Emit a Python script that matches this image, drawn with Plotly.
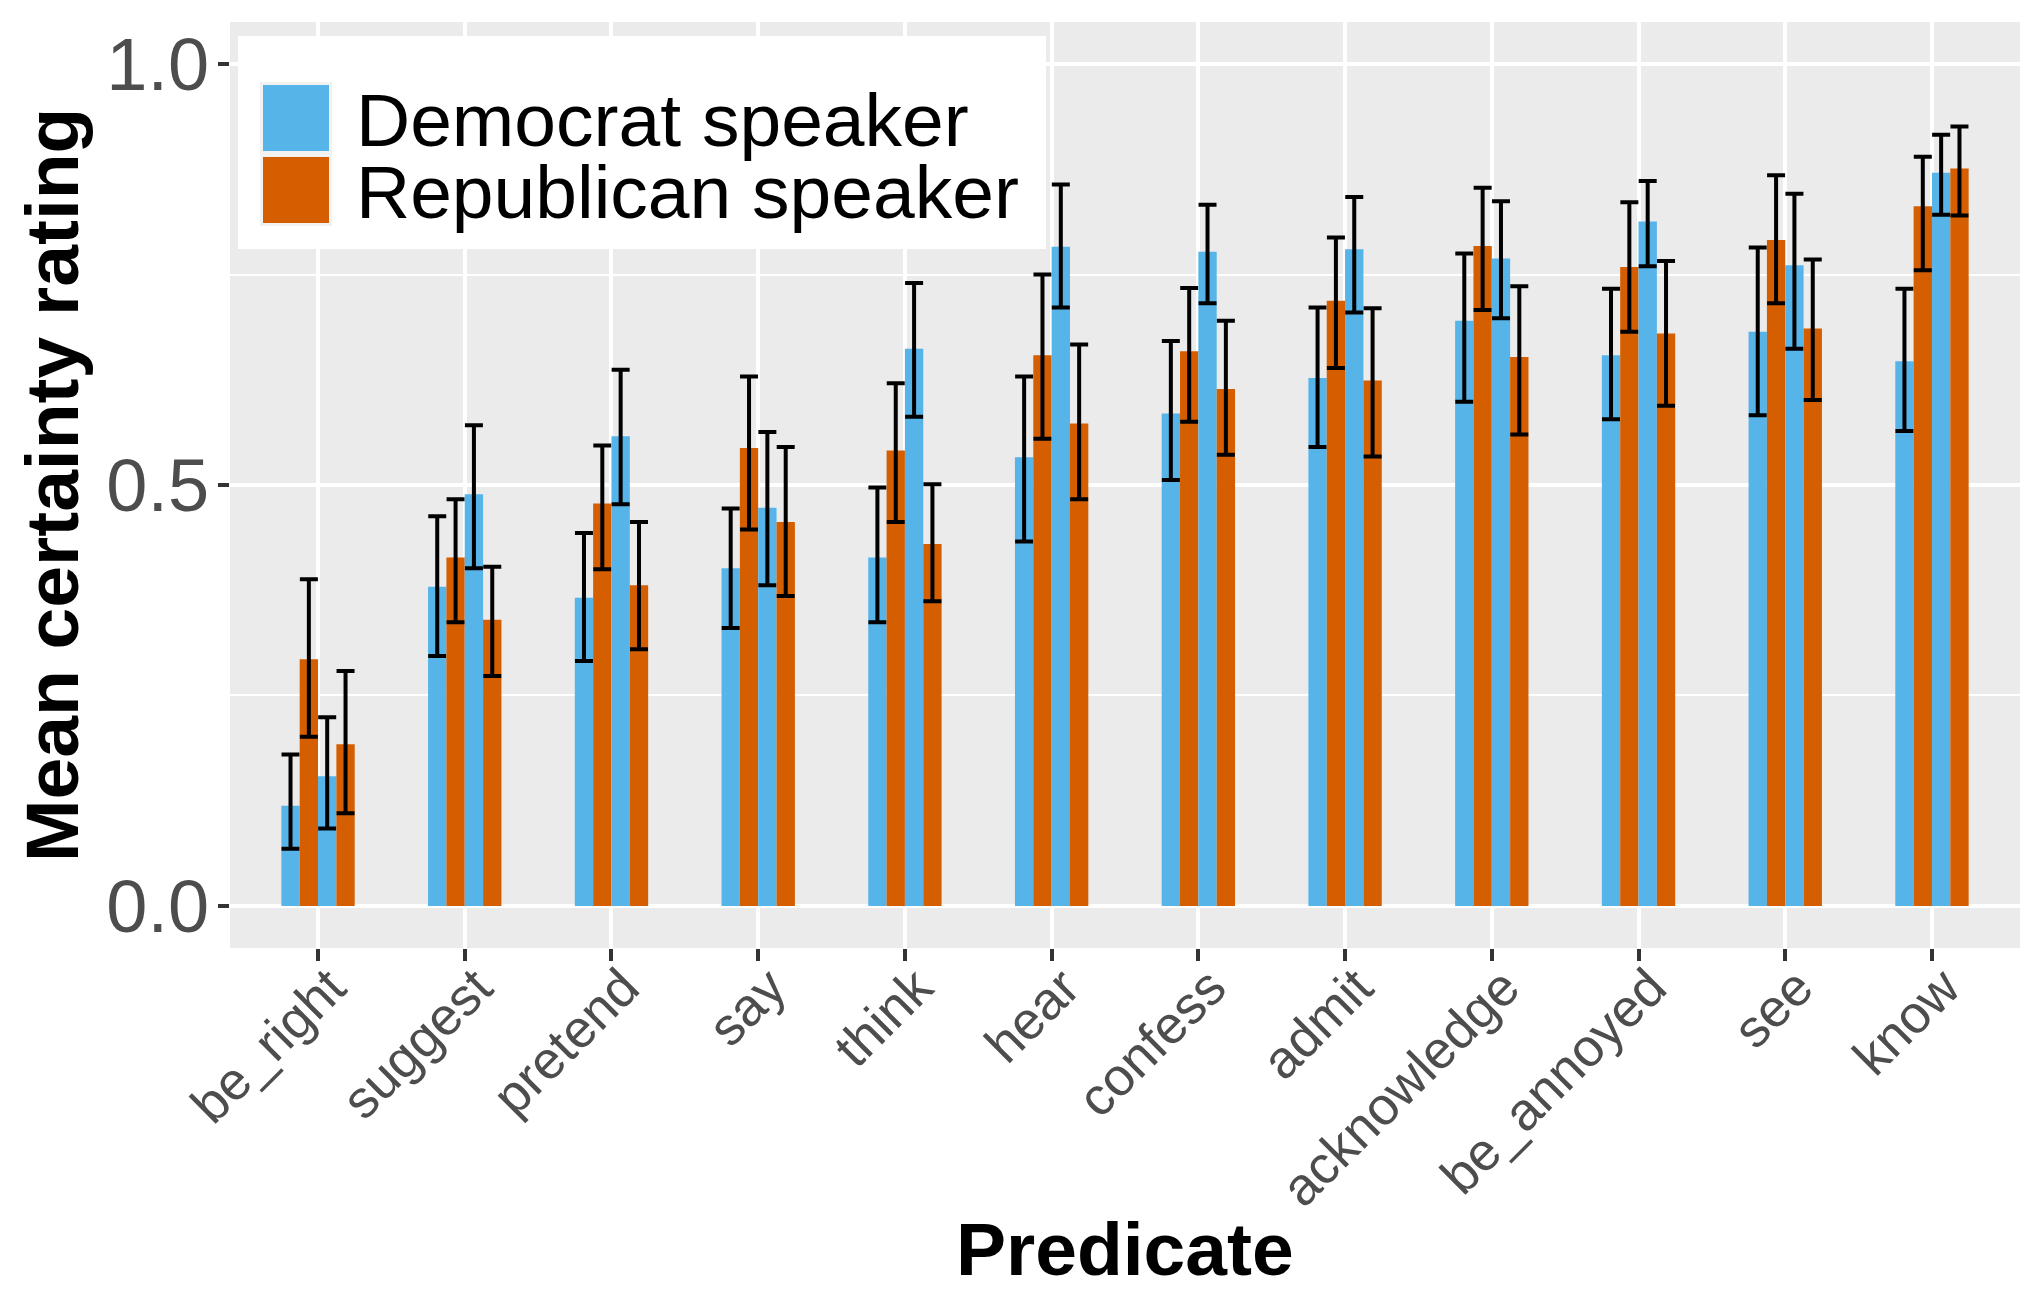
import plotly.graph_objects as go

predicates = ["be_right", "suggest", "pretend", "say", "think", "hear",
              "confess", "admit", "acknowledge", "be_annoyed", "see", "know"]

# Condition A
dem_a = [0.119, 0.379, 0.366, 0.401, 0.414, 0.533, 0.585, 0.627, 0.695, 0.654, 0.682, 0.647]
dem_a_lo = [0.068, 0.297, 0.291, 0.330, 0.337, 0.433, 0.506, 0.545, 0.599, 0.578, 0.583, 0.564]
dem_a_hi = [0.180, 0.463, 0.443, 0.472, 0.497, 0.629, 0.671, 0.711, 0.775, 0.733, 0.782, 0.733]
rep_a = [0.293, 0.414, 0.478, 0.544, 0.541, 0.654, 0.659, 0.719, 0.784, 0.759, 0.791, 0.831]
rep_a_lo = [0.201, 0.337, 0.400, 0.447, 0.456, 0.555, 0.575, 0.639, 0.708, 0.682, 0.716, 0.755]
rep_a_hi = [0.388, 0.483, 0.547, 0.629, 0.621, 0.750, 0.734, 0.794, 0.853, 0.836, 0.868, 0.890]

# Condition B
dem_b = [0.154, 0.489, 0.558, 0.473, 0.662, 0.783, 0.777, 0.780, 0.769, 0.813, 0.761, 0.871]
dem_b_lo = [0.092, 0.401, 0.477, 0.381, 0.581, 0.711, 0.716, 0.705, 0.698, 0.760, 0.662, 0.821]
dem_b_hi = [0.224, 0.571, 0.637, 0.563, 0.740, 0.857, 0.833, 0.842, 0.837, 0.861, 0.846, 0.916]
rep_b = [0.192, 0.340, 0.381, 0.456, 0.430, 0.573, 0.614, 0.624, 0.652, 0.680, 0.686, 0.876]
rep_b_lo = [0.110, 0.273, 0.305, 0.368, 0.362, 0.483, 0.536, 0.534, 0.560, 0.594, 0.601, 0.820]
rep_b_hi = [0.279, 0.403, 0.456, 0.545, 0.501, 0.667, 0.695, 0.710, 0.736, 0.766, 0.768, 0.926]

legend_labels = ["Democrat speaker", "Republican speaker"]
BLUE = "#56B4E9"
ORANGE = "#D55E00"
FONT = "Liberation Sans"

# the page body adds an 8px offset; layout measured in window pixels
OFF = 8
W, H = 2043 - OFF, 1315 - OFF
L, R, T, B = 230 - OFF, 23, 22 - OFF, 367
PW, PH = W - L - R, H - T - B


def px(xw):
    """window x pixel -> paper coordinate"""
    return (xw - OFF - L) / PW


def py(yw):
    """window y pixel -> paper coordinate"""
    return (T + PH - (yw - OFF)) / PH


fig = go.Figure()

series = [
    ("dem_a", dem_a, dem_a_lo, dem_a_hi, BLUE, legend_labels[0]),
    ("rep_a", rep_a, rep_a_lo, rep_a_hi, ORANGE, legend_labels[1]),
    ("dem_b", dem_b, dem_b_lo, dem_b_hi, BLUE, legend_labels[0]),
    ("rep_b", rep_b, rep_b_lo, rep_b_hi, ORANGE, legend_labels[1]),
]

for key, vals, lo, hi, col, name in series:
    fig.add_trace(go.Bar(
        x=predicates, y=vals, name=name, offsetgroup=key,
        marker=dict(color=col, line=dict(width=0)),
        showlegend=False,
        error_y=dict(type="data", symmetric=False,
                     array=[h - v for h, v in zip(hi, vals)],
                     arrayminus=[v - l for v, l in zip(vals, lo)],
                     color="black", thickness=4, width=9),
    ))

shapes = [
    dict(type="rect", xref="paper", yref="paper", x0=px(238), x1=px(1046),
         y0=py(249), y1=py(36), fillcolor="white", line=dict(width=0), layer="above"),
    dict(type="rect", xref="paper", yref="paper", x0=px(260), x1=px(332),
         y0=py(226), y1=py(82), fillcolor="#F2F2F2", line=dict(width=0), layer="above"),
    dict(type="rect", xref="paper", yref="paper", x0=px(263), x1=px(329),
         y0=py(151), y1=py(85), fillcolor=BLUE, line=dict(width=0), layer="above"),
    dict(type="rect", xref="paper", yref="paper", x0=px(263), x1=px(329),
         y0=py(223), y1=py(157), fillcolor=ORANGE, line=dict(width=0), layer="above"),
]

annotations = [
    dict(text=legend_labels[0], xref="paper", yref="paper", x=px(354), y=py(120),
         xanchor="left", yanchor="middle", showarrow=False,
         font=dict(family=FONT, size=75, color="black")),
    dict(text=legend_labels[1], xref="paper", yref="paper", x=px(354), y=py(192),
         xanchor="left", yanchor="middle", showarrow=False,
         font=dict(family=FONT, size=75, color="black")),
    dict(text="Mean certainty rating", xref="paper", yref="paper", x=px(52), y=0.5,
         xanchor="center", yanchor="middle", textangle=-90, showarrow=False,
         font=dict(family=FONT, size=75, color="black", weight="bold")),
    dict(text="Predicate", xref="paper", yref="paper", x=0.5, y=py(1249),
         xanchor="center", yanchor="middle", showarrow=False,
         font=dict(family=FONT, size=75, color="black", weight="bold")),
]

fig.update_layout(
    width=W, height=H,
    margin=dict(l=L, r=R, t=T, b=B, pad=0),
    paper_bgcolor="white", plot_bgcolor="#EBEBEB",
    barmode="group", bargap=0.5, bargroupgap=0,
    shapes=shapes, annotations=annotations,
    font=dict(family=FONT),
    showlegend=False,
)

fig.update_xaxes(
    type="category", categoryorder="array", categoryarray=predicates,
    range=[-0.6, 11.6], showgrid=True, gridcolor="white", gridwidth=4,
    zeroline=False, showline=False,
    ticks="outside", ticklen=12, tickwidth=4, tickcolor="#333333",
    tickangle=-45, tickfont=dict(family=FONT, size=53, color="#4D4D4D"),
    ticklabelstandoff=-26, ticklabelshift=12,
)

fig.update_yaxes(
    range=[-0.05, 1.05], tickvals=[0, 0.5, 1.0], ticktext=["0.0", "0.5", "1.0"],
    showgrid=True, gridcolor="white", gridwidth=4, zeroline=False, showline=False,
    minor=dict(tickvals=[0.25, 0.75], showgrid=True, gridcolor="white", gridwidth=2, ticks=""),
    ticks="outside", ticklen=11, tickwidth=4, tickcolor="#333333",
    tickfont=dict(family=FONT, size=74, color="#4D4D4D"),
    ticklabelstandoff=-6,
)

fig.write_html("out.html")
